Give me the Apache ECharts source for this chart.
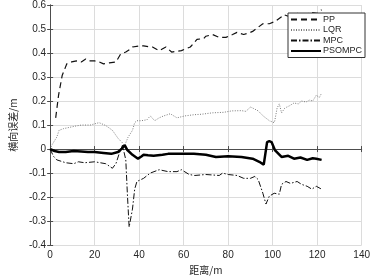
<!DOCTYPE html>
<html lang="zh">
<head>
  <meta charset="utf-8" />
  <title>横向误差</title>
  <script src="https://cdn.jsdelivr.net/npm/echarts@6/dist/echarts.min.js"></script>
  <style>
    html, body { margin: 0; padding: 0; background: #fff; }
    #main { width: 373px; height: 280px; }
  </style>
</head>
<body>
<div id="main"></div>
<script>
  // 距离 / 误差 数据
  let ppX = [2.5, 3.8, 5.4, 7.5, 9.7, 11.8, 14, 16, 17.6, 20, 22, 24, 26.6, 29.6, 31.7, 34, 36, 37, 40, 42, 45, 46, 49, 52, 54.6, 59, 63, 66, 69, 70, 73, 76, 79, 82, 84, 87, 90, 91, 95.6, 98.5, 101, 104, 105, 108, 111, 114, 117, 120, 122]
  let ppY = [0.13, 0.225, 0.306, 0.355, 0.363, 0.367, 0.363, 0.375, 0.367, 0.367, 0.363, 0.355, 0.359, 0.363, 0.396, 0.404, 0.416, 0.425, 0.429, 0.43, 0.425, 0.425, 0.41, 0.425, 0.404, 0.41, 0.425, 0.457, 0.46, 0.47, 0.477, 0.465, 0.465, 0.477, 0.486, 0.477, 0.486, 0.49, 0.522, 0.522, 0.531, 0.551, 0.56, 0.55, 0.565, 0.555, 0.57, 0.565, 0.58]

  let lqrX = [0, 1, 3, 4, 6, 8.5, 11, 14, 18, 22, 25, 28, 30.5, 32.6, 33.5, 35, 37, 38, 39, 41, 43.5, 45, 47, 49, 51, 54, 57, 60.5, 64.6, 68, 73, 78, 81.6, 86, 88, 90, 91, 93.5, 95.6, 98.5, 100.7, 101, 102, 103, 104, 105.5, 107.5, 109.6, 111.5, 113, 115, 116.6, 118, 119.6, 121, 122]
  let lqrY = [0, 0.02, 0.05, 0.078, 0.085, 0.09, 0.095, 0.1, 0.1, 0.11, 0.098, 0.078, 0.045, 0.025, 0.015, 0.049, 0.078, 0.11, 0.118, 0.118, 0.122, 0.138, 0.118, 0.13, 0.138, 0.147, 0.13, 0.138, 0.143, 0.145, 0.151, 0.153, 0.159, 0.16, 0.157, 0.175, 0.171, 0.159, 0.139, 0.118, 0.11, 0.12, 0.171, 0.188, 0.151, 0.171, 0.18, 0.192, 0.188, 0.2, 0.196, 0.204, 0.2, 0.224, 0.215, 0.233]

  let mpcX = [0, 1.5, 3, 7, 10.6, 12.7, 15.5, 20, 22.5, 25, 28, 29.6, 31, 32.5, 33.3, 34, 34.7, 35.5, 36, 37, 38, 39, 42, 45, 49, 53, 57, 59, 62.5, 65, 70, 76, 77.5, 80, 84, 87, 90, 92, 93.5, 95.6, 97, 98.5, 100.7, 103, 104, 106, 108, 111, 113, 115.5, 117.6, 119.6, 122]
  let mpcY = [0, -0.03, -0.045, -0.057, -0.061, -0.053, -0.057, -0.053, -0.057, -0.061, -0.08, -0.06, -0.02, 0.016, 0.01, -0.045, -0.184, -0.325, -0.32, -0.25, -0.167, -0.135, -0.122, -0.1, -0.086, -0.094, -0.094, -0.086, -0.106, -0.11, -0.106, -0.11, -0.1, -0.106, -0.11, -0.122, -0.122, -0.114, -0.127, -0.184, -0.229, -0.196, -0.184, -0.188, -0.147, -0.135, -0.143, -0.135, -0.147, -0.155, -0.167, -0.155, -0.167]

  let psoX = [0, 2, 4, 7, 10.6, 14, 17, 20, 24, 27.5, 30.5, 32.5, 33.5, 34.7, 37, 39.5, 41, 42, 44, 46.5, 50.5, 53, 59, 64.6, 70, 74.5, 80, 86, 91, 94, 96, 97.5, 98.5, 99.5, 101, 104, 107, 109.6, 112.5, 115.5, 118, 119.6, 122]
  let psoY = [0, -0.008, -0.012, -0.012, -0.008, -0.01, -0.012, -0.012, -0.016, -0.02, -0.012, 0.004, 0.016, -0.004, -0.024, -0.04, -0.031, -0.024, -0.026, -0.028, -0.024, -0.02, -0.02, -0.02, -0.024, -0.033, -0.03, -0.033, -0.04, -0.053, -0.065, 0.029, 0.033, 0.029, -0.004, -0.033, -0.028, -0.04, -0.035, -0.045, -0.038, -0.04, -0.045]

  let seriesNames = ['PP', 'LQR', 'MPC', 'PSOMPC']

  let axisColor = '#4d4d4d'
  let gridColor = '#dcdcdc'
  let textColor = '#262626'
  let latinFont = '"Liberation Sans", Arial, sans-serif'
  let cjkFont = '"Noto Sans CJK SC", sans-serif'

  function zip(xs, ys) {
    let out = []
    for (let i = 0; i < xs.length; i++) out.push([xs[i], ys[i]])
    return out
  }

  let chart = echarts.init(document.getElementById('main'), null, { renderer: 'canvas' })

  let tickIn = { show: true, inside: true, length: 3, lineStyle: { color: axisColor } }

  let option = {
    animation: false,
    backgroundColor: '#fff',
    grid: { left: 34, right: 8, top: 5, bottom: 30, containLabel: false },
    legend: {
      data: seriesNames,
      orient: 'vertical',
      left: 288,
      top: 13,
      padding: [2, 3, 2, 2],
      itemGap: 1.5,
      itemWidth: 30,
      itemHeight: 10,
      backgroundColor: '#fff',
      borderColor: '#333',
      borderWidth: 1,
      borderRadius: 0,
      // 图例只画线，不画点
      itemStyle: { opacity: 0, color: 'rgba(0,0,0,0)', borderWidth: 0 },
      textStyle: { fontSize: 9, color: textColor, fontFamily: latinFont, padding: [0, 0, 0, -3] },
    },
    xAxis: [
      {
        type: 'value', min: 0, max: 140, interval: 20,
        name: '距离/m', nameLocation: 'middle', nameGap: 16,
        nameTextStyle: { fontSize: 10, color: textColor, fontFamily: cjkFont },
        axisLine: { show: true, lineStyle: { color: axisColor } },
        axisTick: tickIn,
        axisLabel: { fontSize: 10, color: textColor, fontFamily: latinFont, margin: 5 },
        splitLine: { show: true, lineStyle: { color: gridColor } },
      },
      {
        type: 'value', min: 0, max: 140, interval: 20, position: 'top',
        axisLine: { show: true, lineStyle: { color: axisColor } },
        axisTick: tickIn, axisLabel: { show: false }, splitLine: { show: false },
      },
    ],
    yAxis: [
      {
        type: 'value', min: -0.4, max: 0.6, interval: 0.1,
        name: '横向误差/m', nameLocation: 'middle', nameGap: 22,
        nameTextStyle: { fontSize: 10, color: textColor, fontFamily: cjkFont },
        axisLine: { show: true, lineStyle: { color: axisColor } },
        axisTick: tickIn,
        axisLabel: { fontSize: 10, color: textColor, fontFamily: latinFont, margin: 4 },
        splitLine: { show: true, lineStyle: { color: gridColor } },
      },
      {
        type: 'value', min: -0.4, max: 0.6, interval: 0.1, position: 'right',
        axisLine: { show: true, lineStyle: { color: axisColor } },
        axisTick: tickIn, axisLabel: { show: false }, splitLine: { show: false },
      },
    ],
    series: [
      {
        name: 'PP', type: 'line', symbol: 'none', data: zip(ppX, ppY),
        lineStyle: { color: '#111', width: 1.2, type: [6, 4] },
        itemStyle: { color: '#111' },
      },
      {
        name: 'LQR', type: 'line', symbol: 'none', data: zip(lqrX, lqrY),
        lineStyle: { color: '#7a7a7a', width: 1, type: [1, 1.5] },
        itemStyle: { color: '#7a7a7a' },
      },
      {
        name: 'MPC', type: 'line', symbol: 'none', data: zip(mpcX, mpcY),
        lineStyle: { color: '#111', width: 1, type: [6, 2, 1.5, 2] },
        itemStyle: { color: '#111' },
      },
      {
        name: 'PSOMPC', type: 'line', symbol: 'none', data: zip(psoX, psoY),
        lineStyle: { color: '#000', width: 2.5 },
        itemStyle: { color: '#000' },
      },
    ],
  }

  chart.setOption(option)
</script>
</body>
</html>
